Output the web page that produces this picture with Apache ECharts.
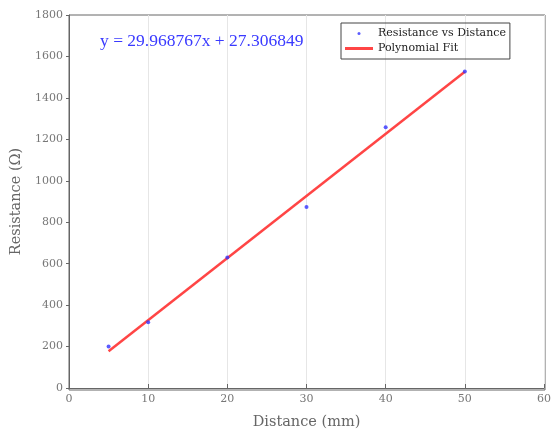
<!DOCTYPE html>
<html>
<head>
<meta charset="utf-8">
<script src="https://cdn.jsdelivr.net/npm/echarts@6/dist/echarts.min.js"></script>
<style>
  html, body { margin: 0; padding: 0; background: #fff; }
  #chart { width: 554px; height: 435px; }
</style>
</head>
<body>
<div id="chart"></div>
<script>
// measured points
const distance = [5, 10, 20, 30, 40, 50];
const resistance = [200, 317, 630, 874, 1258, 1527];
// fitted line, ends of the red segment
const fitX = [5, 50];
const fitY = [177, 1526];
const fitLabel = 'y = 29.968767x + 27.306849';

const serif = 'DejaVu Serif';

const chart = echarts.init(document.getElementById('chart'));

const option = {
  backgroundColor: '#fff',
  animation: false,
  grid: { left: 69, right: 9, top: 15, bottom: 45 },
  title: {
    text: fitLabel,
    left: 95,
    top: 27,
    textStyle: { color: '#3a3aff', fontFamily: 'Liberation Serif', fontSize: 17.5, fontWeight: 'normal' }
  },
  legend: {
    left: 341,
    top: 23,
    orient: 'vertical',
    itemGap: 4,
    itemWidth: 28,
    itemHeight: 3,
    padding: [5, 4, 5, 4],
    borderColor: '#444',
    borderWidth: 1,
    textStyle: { fontFamily: serif, fontSize: 11, color: '#222' },
    data: [
      { name: 'Resistance vs Distance', icon: 'circle' },
      { name: 'Polynomial Fit', icon: 'rect' }
    ]
  },
  xAxis: {
    type: 'value',
    min: 0,
    max: 60,
    interval: 10,
    name: 'Distance (mm)',
    nameLocation: 'middle',
    nameGap: 27,
    nameTextStyle: { fontFamily: serif, fontSize: 14.5, color: '#666' },
    axisLine: { onZero: false, lineStyle: { color: '#666' } },
    axisTick: { show: true, inside: true, length: 4, lineStyle: { color: '#666' } },
    axisLabel: { fontFamily: serif, fontSize: 11, color: '#777', margin: 6 },
    splitLine: { show: true, lineStyle: { color: '#e6e6e6' } }
  },
  yAxis: {
    type: 'value',
    min: 0,
    max: 1800,
    interval: 200,
    name: 'Resistance (Ω)',
    nameLocation: 'middle',
    nameGap: 42,
    nameTextStyle: { fontFamily: serif, fontSize: 14.5, color: '#666' },
    axisLine: { show: true, lineStyle: { color: '#666' } },
    axisTick: { show: true, length: 3, lineStyle: { color: '#666' } },
    axisLabel: { fontFamily: serif, fontSize: 11, color: '#777', margin: 6, formatter: v => String(v) },
    splitLine: { show: false }
  },
  series: [
    {
      name: 'Resistance vs Distance',
      type: 'scatter',
      symbol: 'circle',
      symbolSize: 4,
      itemStyle: { color: '#3333ff' },
      data: distance.map((d, i) => [d, resistance[i]]),
      z: 3
    },
    {
      name: 'Polynomial Fit',
      type: 'line',
      showSymbol: false,
      lineStyle: { color: '#ff4545', width: 2.5 },
      itemStyle: { color: '#ff4545' },
      data: fitX.map((d, i) => [d, fitY[i]]),
      z: 2
    }
  ],
  graphic: [
    {
      // box frame (top and right edges)
      type: 'rect',
      shape: { x: 69, y: 15, width: 476, height: 375 },
      style: { fill: 'none', stroke: '#666', lineWidth: 1 },
      silent: true
    }
  ]
};

chart.setOption(option);
</script>
</body>
</html>
